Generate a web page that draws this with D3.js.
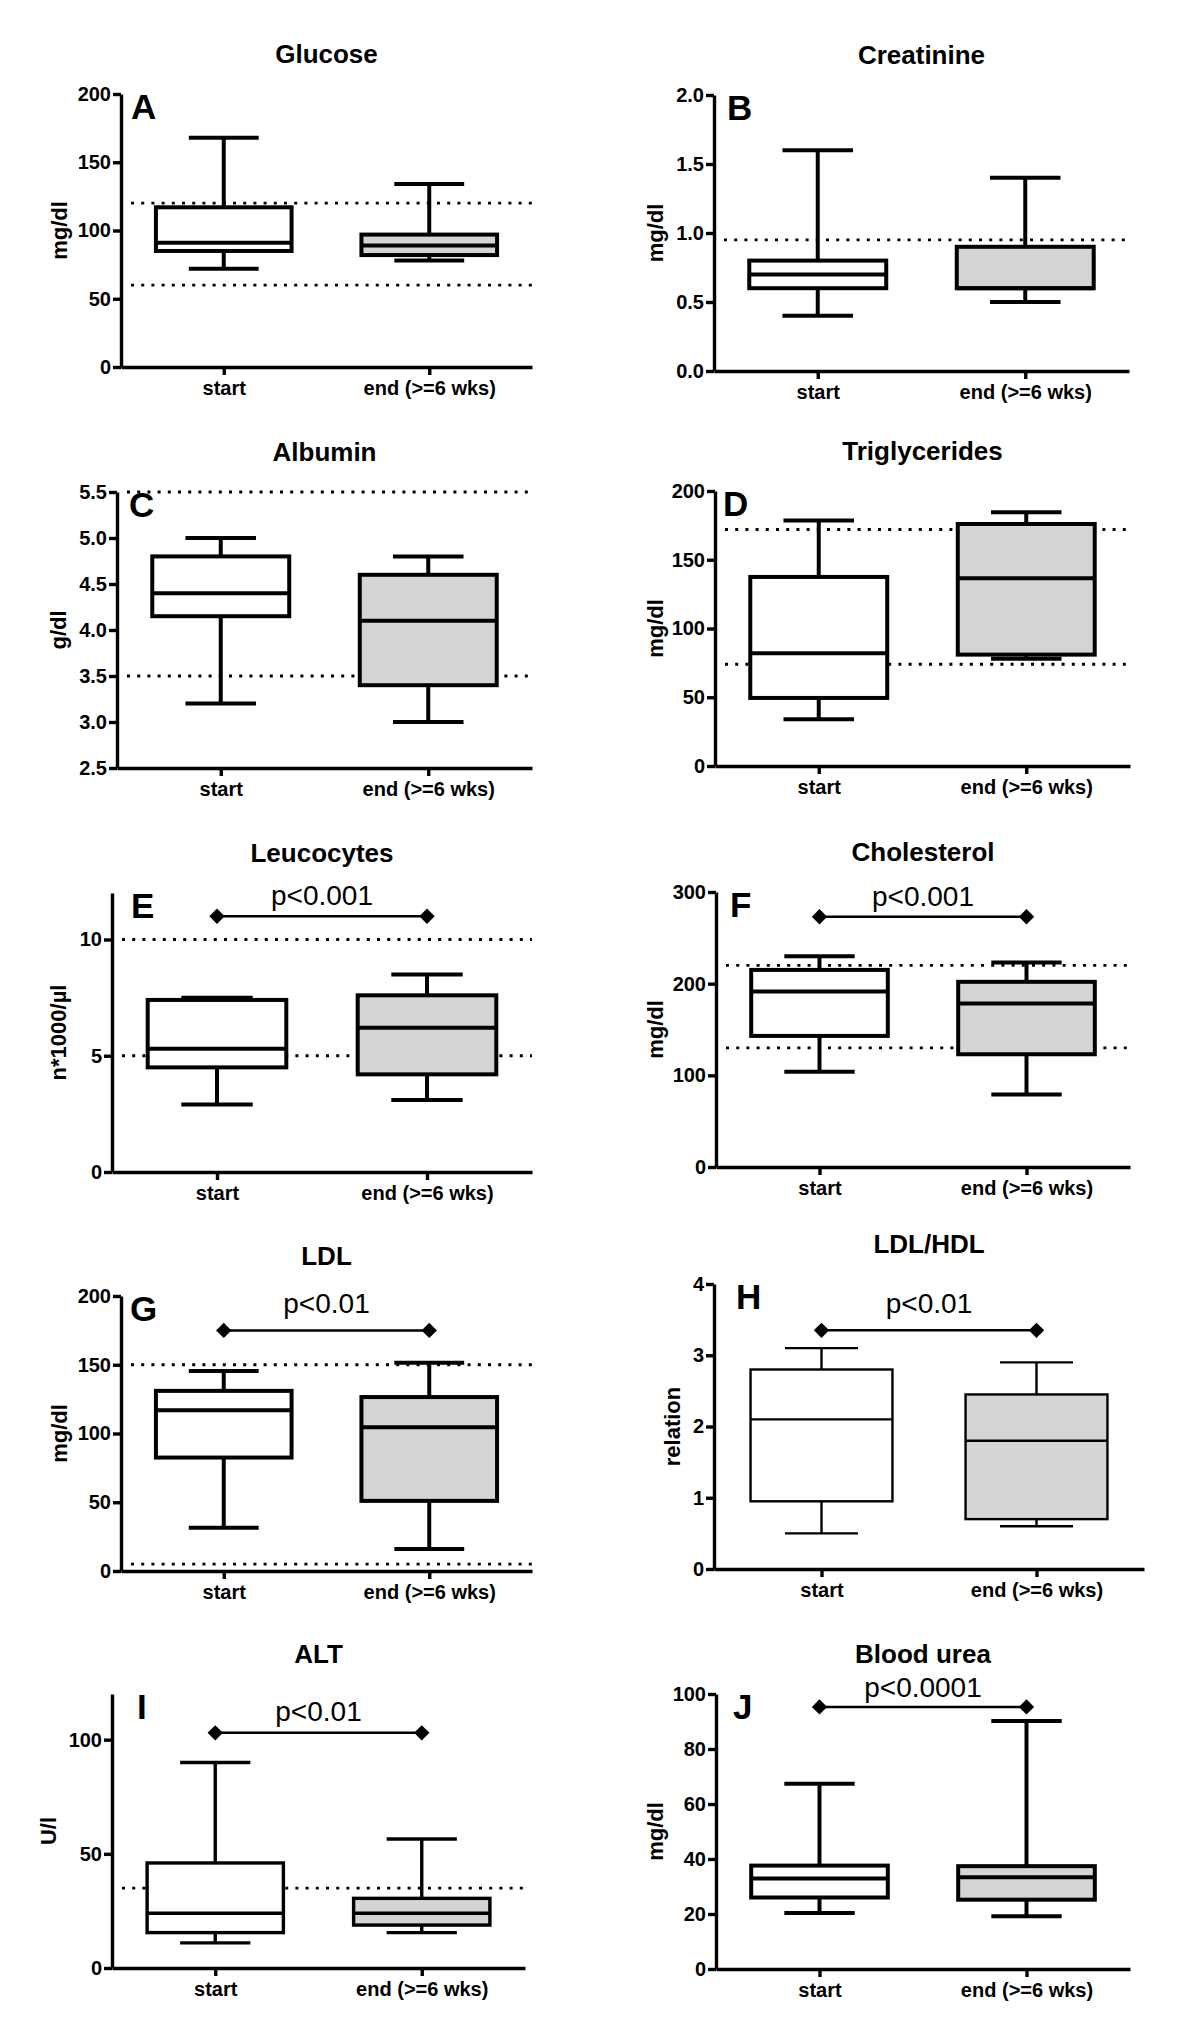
<!DOCTYPE html>
<html>
<head>
<meta charset="utf-8">
<script src="https://cdn.jsdelivr.net/npm/d3@7"></script>
<style>
    body { margin: 0; background: #fff; }
    #chart { width: 1200px; height: 2033px; }
    svg text { font-family: "Liberation Sans", Arial, sans-serif; fill: #000; }
</style>
</head>
<body>
<div id="chart"></div>
<script>

/*
DATA
*/
const groups = ["start", "end (>=6 wks)"];
const titles = ["Glucose", "Creatinine", "Albumin", "Triglycerides", "Leucocytes",
    "Cholesterol", "LDL", "LDL/HDL", "ALT", "Blood urea"];
const letters = ["A", "B", "C", "D", "E", "F", "G", "H", "I", "J"];
const units = ["mg/dl", "mg/dl", "g/dl", "mg/dl", "n*1000/µl",
    "mg/dl", "mg/dl", "relation", "U/l", "mg/dl"];

// [min, q1, median, q3, max]
const startStats = [
    [72, 85, 91, 117, 168],
    [0.4, 0.6, 0.7, 0.8, 1.6],
    [3.2, 4.15, 4.4, 4.8, 5.0],
    [34, 49.5, 82, 137.5, 178.5],
    [2.9, 4.5, 5.3, 7.4, 7.5],
    [104, 143, 191.5, 215, 230],
    [31.5, 82.5, 117, 131, 145.5],
    [0.5, 0.95, 2.1, 2.8, 3.1],
    [11, 15.5, 24, 46, 90],
    [20.4, 26, 32.9, 37.6, 67.4]
];
const endStats = [
    [78, 82, 89, 97, 134],
    [0.5, 0.6, 0.6, 0.9, 1.4],
    [3.0, 3.4, 4.1, 4.6, 4.8],
    [78, 81, 136.5, 176, 184.5],
    [3.1, 4.2, 6.2, 7.6, 8.5],
    [79, 123, 178.5, 202, 223],
    [16, 51, 104.5, 126.5, 151.5],
    [0.6, 0.7, 1.8, 2.45, 2.9],
    [15.5, 18.8, 24, 30.5, 56.5],
    [19.2, 25.2, 33.4, 37.4, 90.2]
];

// normal range lines (dotted)
const refLines = [[60, 120], [0.95], [3.5, 5.5], [74, 172], [5, 10],
    [130, 220], [5, 150], [], [35], []];

// significance bars
const pLabels = [null, null, null, null, "p<0.001", "p<0.001", "p<0.01", "p<0.01", "p<0.01", "p<0.0001"];
const pLevels = [null, null, null, null, 11, 273, 175, 3.35, 103, 95.3];

// axes
const yDomains = [[0, 200], [0, 2], [2.5, 5.5], [0, 200], [0, 12],
    [0, 300], [0, 200], [0, 4], [0, 120], [0, 100]];
const yTicks = [
    [0, 50, 100, 150, 200],
    [0, 0.5, 1, 1.5, 2],
    [2.5, 3, 3.5, 4, 4.5, 5, 5.5],
    [0, 50, 100, 150, 200],
    [0, 5, 10],
    [0, 100, 200, 300],
    [0, 50, 100, 150, 200],
    [0, 1, 2, 3, 4],
    [0, 50, 100],
    [0, 20, 40, 60, 80, 100]
];
const tickFormats = ["d", ".1f", ".1f", "d", "d", "d", "d", "d", "d", "d"];

/*
LAYOUT OF THE TEN PANELS (pixels)
*/
const layout = [
    {left: 121, right: 532, top: 94, bottom: 367, letterDx: 10, labelDx: -62, lw: 4, pGap: 11},
    {left: 714, right: 1129, top: 95, bottom: 371, letterDx: 13, labelDx: -59, lw: 4, pGap: 11},
    {left: 117, right: 532, top: 492, bottom: 768, letterDx: 12, labelDx: -59, lw: 4, pGap: 11},
    {left: 715, right: 1130, top: 491, bottom: 766, letterDx: 8, labelDx: -60, lw: 4, pGap: 11},
    {left: 112, right: 532, top: 893, bottom: 1172, letterDx: 19, labelDx: -54, lw: 4, pGap: 11},
    {left: 716, right: 1130, top: 892, bottom: 1167, letterDx: 14, labelDx: -61, lw: 4, pGap: 11},
    {left: 121, right: 532, top: 1296, bottom: 1571, letterDx: 9, labelDx: -62, lw: 4, pGap: 17},
    {left: 714, right: 1144, top: 1284, bottom: 1569, letterDx: 22, labelDx: -42, lw: 2.4, pGap: 17},
    {left: 112, right: 525, top: 1694, bottom: 1968, letterDx: 25, labelDx: -64, lw: 3.4, pGap: 12},
    {left: 716, right: 1130, top: 1694, bottom: 1969, letterDx: 17, labelDx: -61, lw: 4, pGap: 10}
];

const svg = d3.select("#chart")
    .append("svg")
    .attr("width", 1200)
    .attr("height", 2033);

svg.append("rect").attr("width", 1200).attr("height", 2033).attr("fill", "#fff");

layout.forEach(function(L, i) {

    const g = svg.append("g");

    const xScale = d3.scalePoint()
        .domain(groups)
        .range([L.left, L.right])
        .padding(0.5);

    const yScale = d3.scaleLinear()
        .domain(yDomains[i])
        .range([L.bottom, L.top]);

    const step = xScale.step();
    const boxW = step * 0.66;
    const capW = step * 0.34;

    /*
    DOTTED REFERENCE LINES
    */
    g.selectAll(".ref")
        .data(refLines[i])
        .enter()
        .append("line")
            .attr("x1", L.left + 10)
            .attr("x2", L.right)
            .attr("y1", function(d) { return yScale(d); })
            .attr("y2", function(d) { return yScale(d); })
            .attr("stroke", "#000")
            .attr("stroke-width", 2.8)
            .attr("stroke-dasharray", "3 7.2");

    /*
    BOXES + WHISKERS
    */
    const stats = [startStats[i], endStats[i]];
    const boxes = g.selectAll(".box")
        .data(stats)
        .enter()
        .append("g")
        .attr("class", "box")
        .attr("stroke", "#000")
        .attr("stroke-width", L.lw);

    boxes.each(function(s, k) {
        const b = d3.select(this);
        const cx = xScale(groups[k]);

        b.append("line")
            .attr("x1", cx).attr("x2", cx)
            .attr("y1", yScale(s[0])).attr("y2", yScale(s[1]));
        b.append("line")
            .attr("x1", cx).attr("x2", cx)
            .attr("y1", yScale(s[3])).attr("y2", yScale(s[4]));

        [s[0], s[4]].forEach(function(v) {
            b.append("line")
                .attr("x1", cx - capW / 2).attr("x2", cx + capW / 2)
                .attr("y1", yScale(v)).attr("y2", yScale(v));
        });

        b.append("rect")
            .attr("x", cx - boxW / 2)
            .attr("y", yScale(s[3]))
            .attr("width", boxW)
            .attr("height", yScale(s[1]) - yScale(s[3]))
            .attr("fill", k === 0 ? "#ffffff" : "#d4d4d4");

        b.append("line")
            .attr("x1", cx - boxW / 2).attr("x2", cx + boxW / 2)
            .attr("y1", yScale(s[2])).attr("y2", yScale(s[2]));
    });

    /*
    AXES
    */
    const yAxis = g.append("g")
        .attr("transform", `translate(${L.left},0)`)
        .call(d3.axisLeft(yScale)
            .tickValues(yTicks[i])
            .tickFormat(d3.format(tickFormats[i]))
            .tickSize(8)
            .tickSizeOuter(0)
            .tickPadding(2));

    const xAxis = g.append("g")
        .attr("transform", `translate(0,${L.bottom})`)
        .call(d3.axisBottom(xScale)
            .tickSize(8)
            .tickSizeOuter(0)
            .tickPadding(6));

    [yAxis, xAxis].forEach(function(ax) {
        ax.select(".domain").attr("stroke-width", 3.4).attr("stroke", "#000");
        ax.selectAll(".tick line").attr("stroke-width", 3.4).attr("stroke", "#000");
        ax.selectAll(".tick text")
            .attr("font-size", 20)
            .attr("font-weight", "bold")
            .attr("font-family", "Liberation Sans, Arial, sans-serif")
            .attr("fill", "#000");
    });

    /*
    TITLES + LABELS
    */
    g.append("text")
        .attr("x", (L.left + L.right) / 2)
        .attr("y", L.top - 40 + 9)
        .attr("text-anchor", "middle")
        .attr("font-size", 26)
        .attr("font-weight", "bold")
        .text(titles[i]);

    g.append("text")
        .attr("x", L.left + L.letterDx)
        .attr("y", L.top + 25)
        .attr("font-size", 35)
        .attr("font-weight", "bold")
        .text(letters[i]);

    g.append("text")
        .attr("transform", `translate(${L.left + L.labelDx},${(L.top + L.bottom) / 2}) rotate(-90)`)
        .attr("text-anchor", "middle")
        .attr("dominant-baseline", "central")
        .attr("font-size", 22)
        .attr("font-weight", "bold")
        .text(units[i]);

    /*
    SIGNIFICANCE BAR
    */
    if (pLabels[i]) {
        const py = yScale(pLevels[i]);
        const xa = xScale(groups[0]);
        const xb = xScale(groups[1]);

        g.append("line")
            .attr("x1", xa).attr("x2", xb)
            .attr("y1", py).attr("y2", py)
            .attr("stroke", "#000")
            .attr("stroke-width", 2.5);

        g.selectAll(".diamond")
            .data([xa, xb])
            .enter()
            .append("path")
                .attr("d", d3.symbol(d3.symbolSquare, 118))
                .attr("transform", function(d) { return `translate(${d},${py}) rotate(45)`; })
                .attr("fill", "#000");

        g.append("text")
            .attr("x", (xa + xb) / 2)
            .attr("y", py - L.pGap)
            .attr("text-anchor", "middle")
            .attr("font-size", 28)
            .text(pLabels[i]);
    }
});

</script>
</body>
</html>
